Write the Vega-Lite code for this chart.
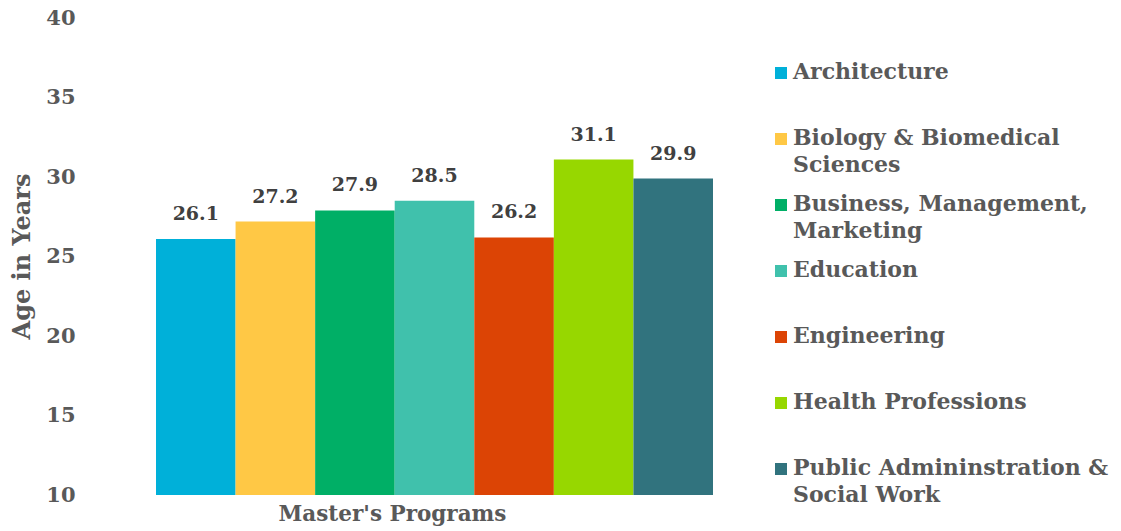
{
  "$schema": "https://vega.github.io/schema/vega-lite/v6.json",
  "width": 557,
  "height": 477,
  "autosize": "none",
  "padding": {"left": 156, "top": 18, "right": 408, "bottom": 36},
  "background": "white",
  "config": {"view": {"stroke": null}, "font": "DejaVu Serif"},
  "data": {"values": [
    {"program": "Architecture", "age": 26.1},
    {"program": "Biology & Biomedical Sciences", "age": 27.2},
    {"program": "Business, Management, Marketing", "age": 27.9},
    {"program": "Education", "age": 28.5},
    {"program": "Engineering", "age": 26.2},
    {"program": "Health Professions", "age": 31.1},
    {"program": "Public Admininstration & Social Work", "age": 29.9}
  ]},
  "encoding": {
    "x": {
      "field": "program", "type": "nominal", "sort": null,
      "scale": {"paddingInner": 0, "paddingOuter": 0},
      "axis": {
        "title": "Master's Programs", "labels": false, "ticks": false, "domain": false,
        "titleX": 236, "titleY": 25, "titleBaseline": "alphabetic", "titleAlign": "center",
        "titleFont": "DejaVu Serif", "titleFontSize": 21.5, "titleFontWeight": "bold", "titleColor": "#595959"
      }
    },
    "y": {
      "field": "age", "type": "quantitative",
      "scale": {"domain": [10, 40], "nice": false},
      "axis": {
        "title": "Age in Years", "values": [10, 15, 20, 25, 30, 35, 40],
        "grid": false, "ticks": false, "domain": false, "labelPadding": 81,
        "labelFont": "DejaVu Serif", "labelFontSize": 21, "labelFontWeight": "bold", "labelColor": "#595959",
        "titleX": -134, "titleY": 238, "titleAngle": -90, "titleBaseline": "middle", "titleAlign": "center",
        "titleFont": "DejaVu Serif", "titleFontSize": 24, "titleFontWeight": "bold", "titleColor": "#595959"
      }
    }
  },
  "layer": [
    {
      "mark": {"type": "bar", "clip": true},
      "encoding": {
        "color": {
          "field": "program", "type": "nominal", "sort": null,
          "scale": {
            "domain": ["Architecture", "Biology & Biomedical Sciences", "Business, Management, Marketing", "Education", "Engineering", "Health Professions", "Public Admininstration & Social Work"],
            "range": ["#00B0D9", "#FFC845", "#00AF66", "#40C1AC", "#DC4405", "#97D700", "#31737E"]
          },
          "legend": {
            "title": null, "orient": "none", "legendX": 614, "legendY": 44,
            "symbolType": "square", "symbolSize": 144, "symbolStrokeWidth": 0, "symbolOpacity": 1,
            "labelOffset": 1, "labelLimit": 400, "rowPadding": 17,
            "labelFont": "DejaVu Serif", "labelFontSize": 22, "labelFontWeight": "bold", "labelColor": "#595959",
            "labelBaseline": "top",
            "labelExpr": "datum.label == 'Biology & Biomedical Sciences' ? ['Biology & Biomedical', 'Sciences'] : datum.label == 'Business, Management, Marketing' ? ['Business, Management,', 'Marketing'] : datum.label == 'Public Admininstration & Social Work' ? ['Public Admininstration &', 'Social Work'] : [datum.label, '']",
            "encode": {"labels": {"update": {"lineHeight": {"value": 27}, "dy": {"value": -11}}}}
          }
        }
      }
    },
    {
      "mark": {"type": "text", "baseline": "alphabetic", "dy": -19, "font": "DejaVu Serif", "fontSize": 19, "fontWeight": "bold", "color": "#404040"},
      "encoding": {"text": {"field": "age", "type": "quantitative", "format": ".1f"}}
    }
  ]
}
